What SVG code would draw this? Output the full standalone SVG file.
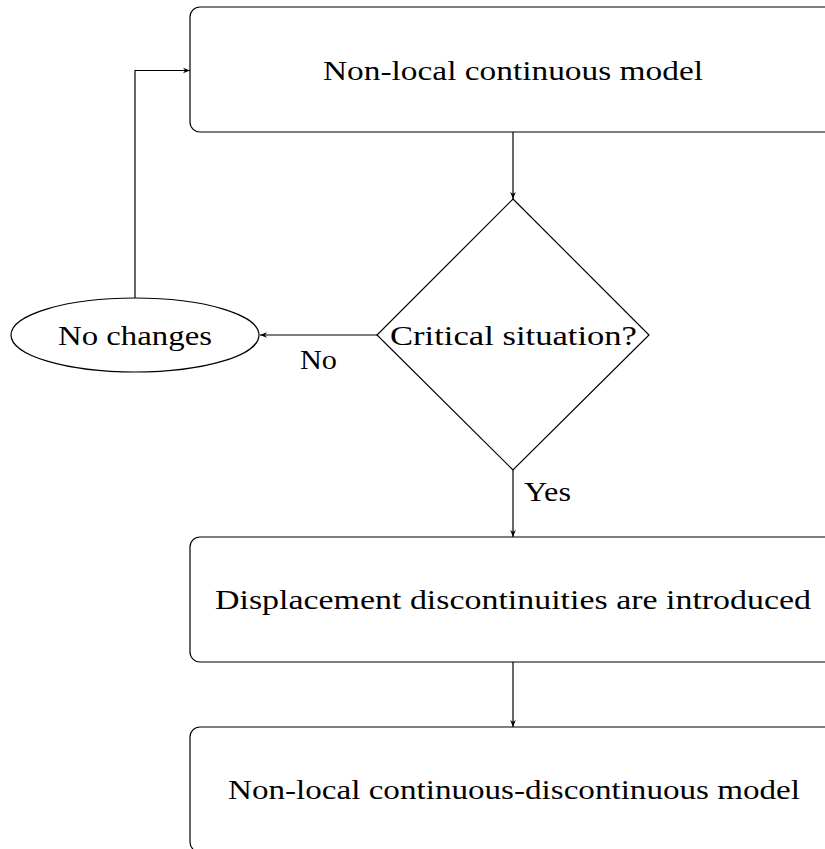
<svg xmlns="http://www.w3.org/2000/svg" width="825" height="849" viewBox="0 0 825 849">
<style>
.s{fill:none;stroke:#000;stroke-width:1.2}
.n{fill:#fff;stroke:#000;stroke-width:1.2}
text{font-family:"Liberation Serif","DejaVu Serif",serif;font-size:27px;fill:#000}
.c{text-anchor:middle}
</style>
<defs>
<marker id="ah" viewBox="0 0 10 10" refX="10" refY="5" markerWidth="7" markerHeight="7" markerUnits="userSpaceOnUse" orient="auto">
<path d="M0,1 L10,5 L0,9 L3,5 Z" fill="#000"/>
</marker>
</defs>
<g id="connectors">
<line class="s" x1="513" y1="132" x2="513" y2="199" marker-end="url(#ah)"/>
<line class="s" x1="377" y1="335" x2="260" y2="335" marker-end="url(#ah)"/>
<line class="s" x1="513" y1="470" x2="513" y2="537" marker-end="url(#ah)"/>
<line class="s" x1="513" y1="662" x2="513" y2="727" marker-end="url(#ah)"/>
<polyline class="s" points="135,298 135,70.5 190,70.5" marker-end="url(#ah)"/>
<text x="300" y="369" textLength="37" lengthAdjust="spacingAndGlyphs">No</text>
<text x="524" y="501" textLength="47" lengthAdjust="spacingAndGlyphs">Yes</text>
</g>
<g id="n1">
<rect class="n" x="190" y="7" width="646" height="125" rx="10"/>
<text x="323" y="80" textLength="380" lengthAdjust="spacingAndGlyphs">Non-local continuous model</text>
</g>
<g id="n2">
<polygon class="n" points="513,199 649,335 513,470 377,335"/>
<text x="390" y="345" textLength="247" lengthAdjust="spacingAndGlyphs">Critical situation?</text>
</g>
<g id="n3">
<ellipse class="n" cx="135" cy="335" rx="124" ry="37"/>
<text x="58" y="345" textLength="154" lengthAdjust="spacingAndGlyphs">No changes</text>
</g>
<g id="n4">
<rect class="n" x="190" y="537" width="646" height="125" rx="10"/>
<text x="215" y="609" textLength="596" lengthAdjust="spacingAndGlyphs">Displacement discontinuities are introduced</text>
</g>
<g id="n5">
<rect class="n" x="190" y="727" width="646" height="125" rx="10"/>
<text x="228" y="799" textLength="572" lengthAdjust="spacingAndGlyphs">Non-local continuous-discontinuous model</text>
</g>
</svg>
